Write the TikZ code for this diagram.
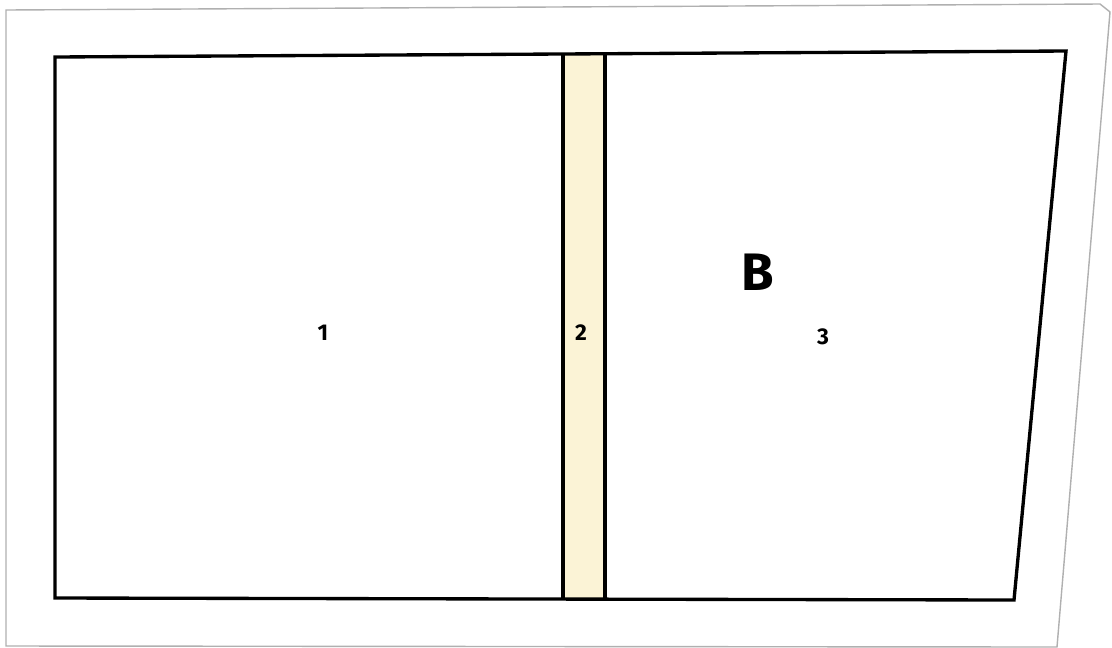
\documentclass[tikz,border=0pt]{standalone}
\usepackage{fontspec}
\setmainfont{Fira Sans}
\definecolor{strip}{HTML}{FBF3D6}
\definecolor{frame}{HTML}{B0B0B0}
\begin{document}
\begin{tikzpicture}[x=0.02cm,y=-0.02cm,
  outline/.style={draw=black,line width=1.9pt,line join=miter},
  framel/.style={draw=frame,line width=0.8pt},
  numlabel/.style={font=\fontsize{13}{13}\selectfont\bfseries},
  biglabel/.style={font=\fontsize{30}{30}\selectfont\bfseries}]
\useasboundingbox (0,0) rectangle (1112,647);
\fill[white] (0,0) rectangle (1112,647);
% outer grey frame
\draw[framel] (6,10) -- (1100,4) -- (1110,12) -- (1057,647) -- (6,646) -- cycle;
% strip
\fill[strip] (563,54) rectangle (605,599);
% inner shape
\draw[outline] (55,57) -- (1066,51) -- (1014,600) -- (55,598) -- cycle;
\draw[outline] (563,54) -- (563,599);
\draw[outline] (605,54) -- (605,599);
% labels
\node[numlabel] (l1) at (323,333) {1};
\node[numlabel] (l2) at (581,333) {2};
\node[numlabel] (l3) at (823,337) {3};
\node[biglabel] (lB) at (758,272) {B};
\end{tikzpicture}
\end{document}
